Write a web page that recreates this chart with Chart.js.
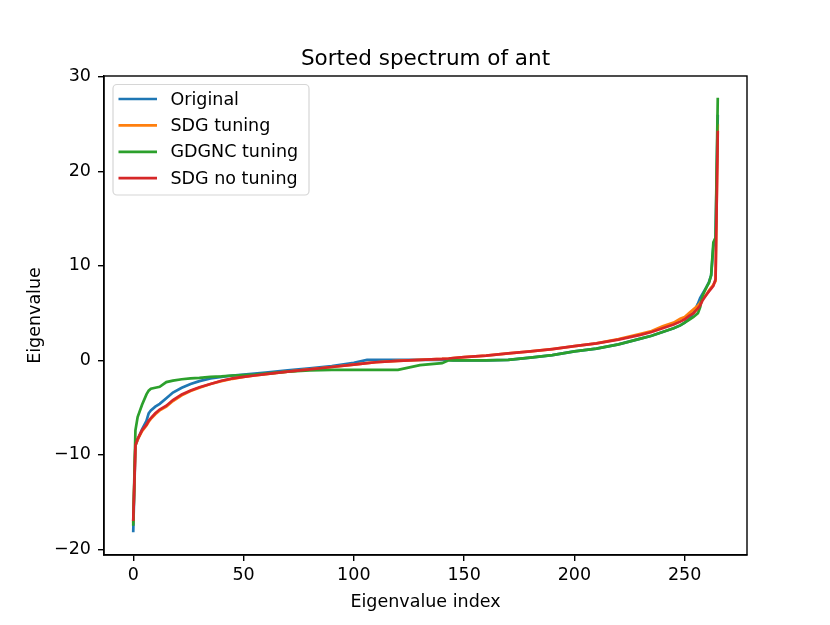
<!DOCTYPE html>
<html>
<head>
<meta charset="utf-8">
<script src="https://cdn.jsdelivr.net/npm/chart.js@4"></script>
<style>
  body { margin: 0; background: #fff; }
  #wrap { width: 830px; height: 625px; }
</style>
</head>
<body>
<div id="wrap"><canvas id="chart"></canvas></div>
<script>
// eigenvalue indices where values were read
const indices = [0, 1, 2, 4, 6, 7, 8, 10, 12, 15, 18, 22, 26, 30, 35, 40, 45, 50, 55, 60,
  70, 80, 90, 100, 106, 110, 120, 130, 140, 143, 145, 150, 160, 170, 180, 190, 200, 210,
  220, 230, 235, 240, 245, 248, 250, 252, 254, 256, 257, 258, 260, 261, 262, 263, 264, 265];

const original = [-18.2, -9.0, -8.4, -7.3, -6.4, -5.6, -5.3, -4.9, -4.6, -4.0, -3.4, -2.9, -2.5, -2.2, -1.9, -1.75, -1.6, -1.5, -1.4, -1.3,
  -1.05, -0.85, -0.6, -0.25, 0.05, 0.05, 0.05, 0.05, 0.05, 0.05, 0.0, 0.0, 0.0, 0.05, 0.3, 0.55, 0.95, 1.25,
  1.7, 2.3, 2.6, 3.0, 3.4, 3.7, 4.0, 4.4, 5.0, 6.0, 6.6, 7.0, 7.8, 8.3, 9.0, 12.0, 13.0, 26.0];

const sdgTuning = [-17.2, -9.0, -8.4, -7.5, -6.9, -6.5, -6.2, -5.7, -5.3, -4.9, -4.3, -3.7, -3.25, -2.9, -2.5, -2.2, -1.95, -1.75, -1.6, -1.45,
  -1.2, -0.95, -0.7, -0.45, -0.3, -0.2, -0.05, 0.05, 0.15, 0.2, 0.25, 0.35, 0.5, 0.75, 0.95, 1.2, 1.5, 1.8,
  2.25, 2.8, 3.1, 3.6, 4.0, 4.4, 4.6, 5.0, 5.4, 5.8, 6.1, 6.5, 7.0, 7.4, 7.7, 8.0, 8.4, 25.0];

const gdgncTuning = [-17.5, -7.4, -6.0, -4.7, -3.6, -3.2, -3.0, -2.9, -2.8, -2.3, -2.15, -2.0, -1.9, -1.85, -1.75, -1.7, -1.6, -1.55, -1.5, -1.4,
  -1.2, -1.05, -1.0, -1.0, -1.0, -1.0, -1.0, -0.5, -0.3, 0.0, 0.0, 0.0, 0.0, 0.05, 0.3, 0.55, 0.95, 1.25,
  1.7, 2.3, 2.6, 3.0, 3.4, 3.7, 4.0, 4.3, 4.6, 5.0, 5.6, 6.8, 7.8, 8.2, 9.0, 12.5, 13.0, 27.8];

const sdgNoTuning = [-17.0, -9.0, -8.3, -7.4, -6.8, -6.4, -6.1, -5.6, -5.2, -4.8, -4.2, -3.6, -3.2, -2.85, -2.5, -2.15, -1.9, -1.75, -1.6, -1.45,
  -1.2, -0.95, -0.7, -0.45, -0.3, -0.2, -0.05, 0.05, 0.15, 0.2, 0.25, 0.35, 0.5, 0.75, 0.95, 1.2, 1.5, 1.8,
  2.2, 2.7, 3.0, 3.4, 3.8, 4.1, 4.35, 4.7, 5.0, 5.5, 5.8, 6.3, 7.0, 7.3, 7.6, 7.9, 8.6, 24.3];

const xTicks = [0, 50, 100, 150, 200, 250];
const yTicks = [-20, -10, 0, 10, 20, 30];

const FONT = "'DejaVu Sans', sans-serif";

function toPoints(values) {
  return indices.map((idx, i) => ({ x: idx, y: values[i] }));
}

const series = [
  { label: 'Original', values: original, color: '#1f77b4', order: 3 },
  { label: 'SDG tuning', values: sdgTuning, color: '#ff7f0e', order: 2 },
  { label: 'GDGNC tuning', values: gdgncTuning, color: '#2ca02c', order: 1 },
  { label: 'SDG no tuning', values: sdgNoTuning, color: '#d62728', order: 0 },
];

const minus = v => String(v).replace('-', '\u2212');

// frame, title and matplotlib-like legend
const decorations = {
  id: 'decorations',
  afterDraw(chart) {
    const { ctx, chartArea: a } = chart;
    ctx.save();
    ctx.strokeStyle = '#000';
    ctx.lineWidth = 1.4;
    ctx.strokeRect(a.left, a.top, a.right - a.left, a.bottom - a.top);

    ctx.fillStyle = '#000';
    ctx.font = `21.5px ${FONT}`;
    ctx.textAlign = 'center';
    ctx.textBaseline = 'alphabetic';
    ctx.fillText('Sorted spectrum of ant', (a.left + a.right) / 2, 65);

    // legend box
    const bx = 113, by = 84.5, bw = 196, bh = 110.5, r = 4;
    ctx.beginPath();
    ctx.moveTo(bx + r, by);
    ctx.arcTo(bx + bw, by, bx + bw, by + bh, r);
    ctx.arcTo(bx + bw, by + bh, bx, by + bh, r);
    ctx.arcTo(bx, by + bh, bx, by, r);
    ctx.arcTo(bx, by, bx + bw, by, r);
    ctx.closePath();
    ctx.fillStyle = 'rgba(255,255,255,0.8)';
    ctx.fill();
    ctx.strokeStyle = '#d6d6d6';
    ctx.lineWidth = 1.2;
    ctx.stroke();

    ctx.font = `17.5px ${FONT}`;
    ctx.textAlign = 'left';
    ctx.textBaseline = 'middle';
    series.forEach((s, i) => {
      const y = 99 + i * 26.4;
      ctx.strokeStyle = s.color;
      ctx.lineWidth = 2.7;
      ctx.beginPath();
      ctx.moveTo(118.5, y);
      ctx.lineTo(157, y);
      ctx.stroke();
      ctx.fillStyle = '#000';
      ctx.fillText(s.label, 170.5, y + 1);
    });
    ctx.restore();
  }
};

new Chart(document.getElementById('chart'), {
  type: 'line',
  data: {
    datasets: series.map(s => ({
      label: s.label,
      data: toPoints(s.values),
      borderColor: s.color,
      backgroundColor: s.color,
      borderWidth: 2.7,
      pointRadius: 0,
      tension: 0,
      order: s.order,
    })),
  },
  options: {
    responsive: true,
    maintainAspectRatio: false,
    animation: false,
    layout: { padding: { left: 0, right: 83, top: 76, bottom: 0 } },
    plugins: {
      legend: { display: false },
      title: { display: false },
      tooltip: { enabled: false },
    },
    scales: {
      x: {
        type: 'linear',
        min: -13.25,
        max: 278.25,
        afterBuildTicks: scale => { scale.ticks = xTicks.map(v => ({ value: v })); },
        afterFit: scale => { scale.height = 70; },
        grid: { drawOnChartArea: false, drawTicks: true, tickLength: 6, color: '#000', lineWidth: 1.4 },
        border: { display: true, color: '#000', width: 1.4 },
        ticks: {
          color: '#000',
          padding: 4,
          maxRotation: 0,
          font: { family: FONT, size: 17.5 },
          callback: v => minus(v),
        },
        title: {
          display: true,
          text: 'Eigenvalue index',
          color: '#000',
          font: { family: FONT, size: 17.5 },
          padding: { top: 0, bottom: 12 },
        },
      },
      y: {
        type: 'linear',
        min: -20.6,
        max: 30.1,
        afterBuildTicks: scale => { scale.ticks = yTicks.map(v => ({ value: v })); },
        afterFit: scale => { scale.width = 104; },
        grid: { drawOnChartArea: false, drawTicks: true, tickLength: 6, color: '#000', lineWidth: 1.4 },
        border: { display: true, color: '#000', width: 1.4 },
        ticks: {
          color: '#000',
          padding: 7,
          font: { family: FONT, size: 17.5 },
          callback: v => minus(v),
        },
        title: {
          display: true,
          text: 'Eigenvalue',
          color: '#000',
          font: { family: FONT, size: 17.5 },
          padding: { top: 25, bottom: 0 },
        },
      },
    },
  },
  plugins: [decorations],
});
</script>
</body>
</html>
